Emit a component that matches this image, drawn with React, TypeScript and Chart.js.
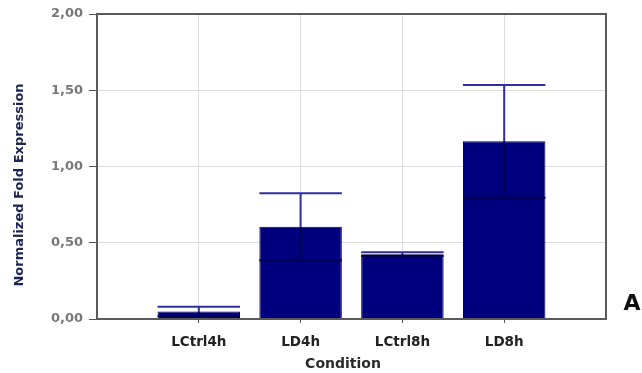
import React, { useEffect, useRef } from "react";
import { Chart, registerables } from "chart.js";

Chart.register(...registerables);

// Data
const categories = ["", "LCtrl4h", "LD4h", "LCtrl8h", "LD8h", ""];
const values: (number | null)[] = [null, 0.05, 0.605, 0.425, 1.165, null];
const errors: (number | null)[] = [null, 0.03, 0.22, 0.012, 0.37, null];
const yTickValues = [0, 0.5, 1, 1.5, 2];
const yTitle = "Normalized Fold Expression";
const xTitle = "Condition";
const panelLabel = "A";

const fmt = (v: number) => v.toFixed(2).replace(".", ",");

const overlayPlugin = {
  id: "overlay",
  afterDatasetsDraw(chart: any) {
    const ctx = chart.ctx;
    const meta = chart.getDatasetMeta(0);
    const yScale = chart.scales.y;
    ctx.save();
    meta.data.forEach((el: any, i: number) => {
      const v = values[i];
      const e = errors[i];
      if (v == null || e == null) return;
      const x = el.x;
      const w = el.width;
      const yTop = yScale.getPixelForValue(v + e);
      const yBot = yScale.getPixelForValue(v - e);
      const yBar = yScale.getPixelForValue(v);
      ctx.lineWidth = 2;
      ctx.strokeStyle = "#2e2e9e";
      ctx.beginPath();
      ctx.moveTo(x, yTop);
      ctx.lineTo(x, yBar);
      ctx.moveTo(x - w / 2, yTop);
      ctx.lineTo(x + w / 2, yTop);
      ctx.stroke();
      ctx.strokeStyle = "#000052";
      ctx.beginPath();
      ctx.moveTo(x, yBar);
      ctx.lineTo(x, yBot);
      ctx.moveTo(x - w / 2, yBot);
      ctx.lineTo(x + w / 2, yBot);
      ctx.stroke();
    });
    ctx.restore();
  },
  afterDraw(chart: any) {
    const ctx = chart.ctx;
    const a = chart.chartArea;
    ctx.save();
    ctx.strokeStyle = "#5a5a5a";
    ctx.lineWidth = 2;
    ctx.strokeRect(a.left, a.top, a.right - a.left, a.bottom - a.top);

    ctx.save();
    ctx.translate(20, 185);
    ctx.rotate(-Math.PI / 2);
    ctx.font = "bold 13px 'DejaVu Sans', sans-serif";
    ctx.fillStyle = "#1c2452";
    ctx.textAlign = "center";
    ctx.textBaseline = "middle";
    ctx.fillText(yTitle, 0, 0);
    ctx.restore();

    ctx.font = "bold 14px 'DejaVu Sans', sans-serif";
    ctx.fillStyle = "#2a2a2a";
    ctx.textAlign = "center";
    ctx.textBaseline = "middle";
    ctx.fillText(xTitle, 343, 364);

    ctx.font = "bold 22px 'DejaVu Sans', sans-serif";
    ctx.fillStyle = "#111111";
    ctx.textAlign = "center";
    ctx.textBaseline = "alphabetic";
    ctx.fillText(panelLabel, 632, 310);

    ctx.restore();
  },
};

export default function App() {
  const ref = useRef<HTMLCanvasElement | null>(null);
  useEffect(() => {
    document.body.style.margin = "0";
    const canvas = ref.current;
    if (!canvas) return;
    const lastIdx = categories.length - 1;
    const chart = new Chart(canvas, {
      type: "bar",
      data: {
        labels: categories,
        datasets: [
          {
            data: values as any,
            backgroundColor: "#00007f",
            borderColor: "#000045",
            borderWidth: 1,
            categoryPercentage: 0.9,
            barPercentage: 0.9,
          },
        ],
      },
      options: {
        animation: false,
        responsive: false,
        maintainAspectRatio: false,
        layout: { padding: { top: 14, right: 36, left: 0, bottom: 0 } },
        plugins: {
          legend: { display: false },
          title: { display: false },
          tooltip: { enabled: false },
        },
        scales: {
          x: {
            type: "category",
            offset: false,
            grid: {
              offset: false,
              color: "#dcdcdc",
              lineWidth: 1,
              drawTicks: true,
              tickLength: 4,
              tickColor: (c: any) =>
                c.index === 0 || c.index === lastIdx ? "rgba(0,0,0,0)" : "#555555",
            },
            border: { display: false },
            ticks: {
              autoSkip: false,
              maxRotation: 0,
              padding: 11,
              color: "#222222",
              font: { family: "'DejaVu Sans'", size: 13.5, weight: "bold" },
            },
            afterFit: (s: any) => {
              s.height = 54;
            },
          },
          y: {
            min: yTickValues[0],
            max: yTickValues[yTickValues.length - 1],
            grid: {
              color: "#dcdcdc",
              lineWidth: 1,
              drawTicks: true,
              tickLength: 8,
              tickColor: "#555555",
            },
            border: { display: false },
            ticks: {
              stepSize: yTickValues[1] - yTickValues[0],
              padding: 6,
              color: "#777777",
              font: { family: "'DejaVu Sans'", size: 13, weight: "bold" },
              callback: (v: any) => fmt(Number(v)),
            },
            afterFit: (s: any) => {
              s.width = 97;
            },
          },
        },
      },
      plugins: [overlayPlugin],
    });
    return () => chart.destroy();
  }, []);
  return (
    <div style={{ position: "absolute", left: 0, top: 0, width: 642, height: 373 }}>
      <canvas ref={ref} width={642} height={373} style={{ display: "block", width: 642, height: 373 }} />
    </div>
  );
}
